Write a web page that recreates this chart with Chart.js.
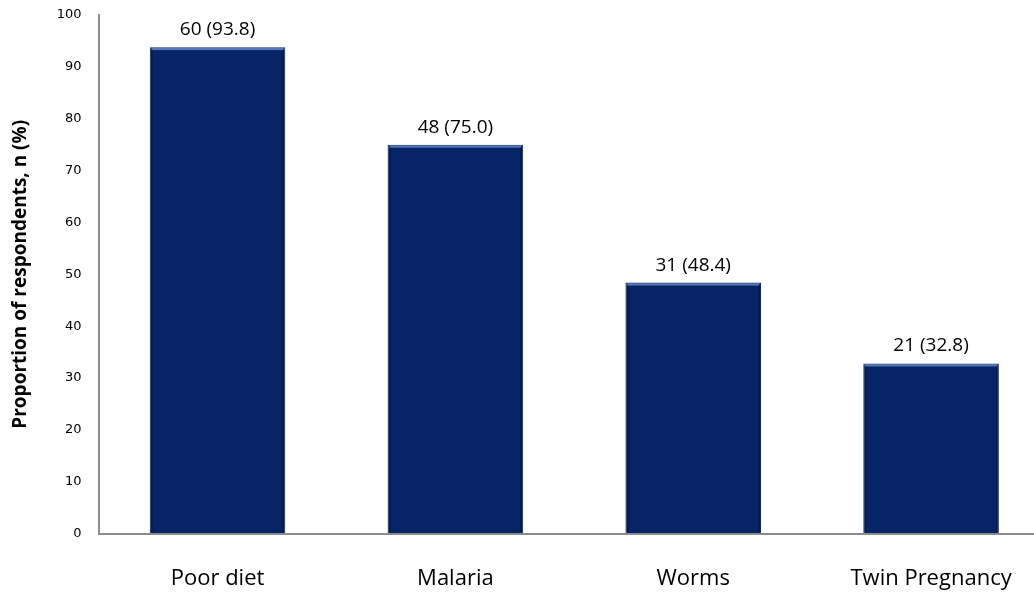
<!DOCTYPE html>
<html lang="en">
<head>
  <meta charset="UTF-8" />
  <title>Proportion of respondents</title>
  <script src="https://cdn.jsdelivr.net/npm/chart.js"></script>
  <style>
    body {
      margin: 0;
      background: #fff;
      overflow: hidden;
    }

    canvas#myChart {
      display: block;
    }
  </style>
</head>
<body>
  <canvas id="myChart" width="1050" height="592"></canvas>

  <script>
    const categories = ['Poor diet', 'Malaria', 'Worms', 'Twin Pregnancy'];
    const counts = [60, 48, 31, 21];
    const percents = [93.8, 75.0, 48.4, 32.8];

    // "n (%)" text above each bar, plus a little bevel on the bars
    const barLabels = {
      id: 'barLabels',
      afterDatasetsDraw(chart) {
        const ctx = chart.ctx;
        const meta = chart.getDatasetMeta(0);
        ctx.save();
        meta.data.forEach((bar, i) => {
          const w = bar.width;
          ctx.fillStyle = 'rgba(110, 145, 210, 0.75)';
          ctx.fillRect(bar.x - w / 2 + 2, bar.y + 1, w - 4, 2);
          ctx.fillStyle = 'rgba(0, 10, 40, 0.35)';
          ctx.fillRect(bar.x + w / 2 - 3, bar.y + 3, 2, bar.base - bar.y - 4);
          ctx.fillRect(bar.x - w / 2 + 1, bar.y + 3, 2, bar.base - bar.y - 4);

          ctx.fillStyle = '#000';
          ctx.font = '19px "Open Sans", sans-serif';
          ctx.textAlign = 'center';
          ctx.textBaseline = 'bottom';
          ctx.fillText(counts[i] + ' (' + percents[i].toFixed(1) + ')', bar.x, bar.y - 8);
        });
        ctx.restore();
      }
    };

    // invisible tick marks give the gap between labels and axis
    const hiddenGrid = len => ({
      display: true,
      drawOnChartArea: false,
      drawTicks: true,
      tickLength: len,
      color: 'rgba(0,0,0,0)'
    });

    const ctx = document.getElementById('myChart').getContext('2d');
    new Chart(ctx, {
      type: 'bar',
      data: {
        labels: categories,
        datasets: [{
          data: percents,
          backgroundColor: '#072465',
          borderColor: '#0a2a6c',
          borderWidth: 1,
          barPercentage: 0.57,
          categoryPercentage: 1.0
        }]
      },
      options: {
        responsive: false,
        animation: false,
        layout: {
          padding: { top: 15, left: 9, right: 0, bottom: 0 }
        },
        plugins: {
          legend: { display: false },
          tooltip: { enabled: false }
        },
        scales: {
          x: {
            grid: hiddenGrid(32),
            border: { display: true, color: '#8c8c8c', width: 2 },
            ticks: {
              color: '#000',
              padding: 0,
              font: { family: '"Open Sans", sans-serif', size: 22 }
            }
          },
          y: {
            min: 0,
            max: 100,
            grid: hiddenGrid(17),
            border: { display: true, color: '#8c8c8c', width: 2 },
            ticks: {
              stepSize: 10,
              color: '#000',
              padding: 0,
              font: { family: '"DejaVu Sans", sans-serif', size: 13 }
            },
            title: {
              display: true,
              text: 'Proportion of respondents, n (%)',
              color: '#000',
              padding: { top: 0, bottom: 25 },
              font: { family: '"Open Sans", sans-serif', size: 19, weight: 'bold' }
            }
          }
        }
      },
      plugins: [barLabels]
    });
  </script>
</body>
</html>
